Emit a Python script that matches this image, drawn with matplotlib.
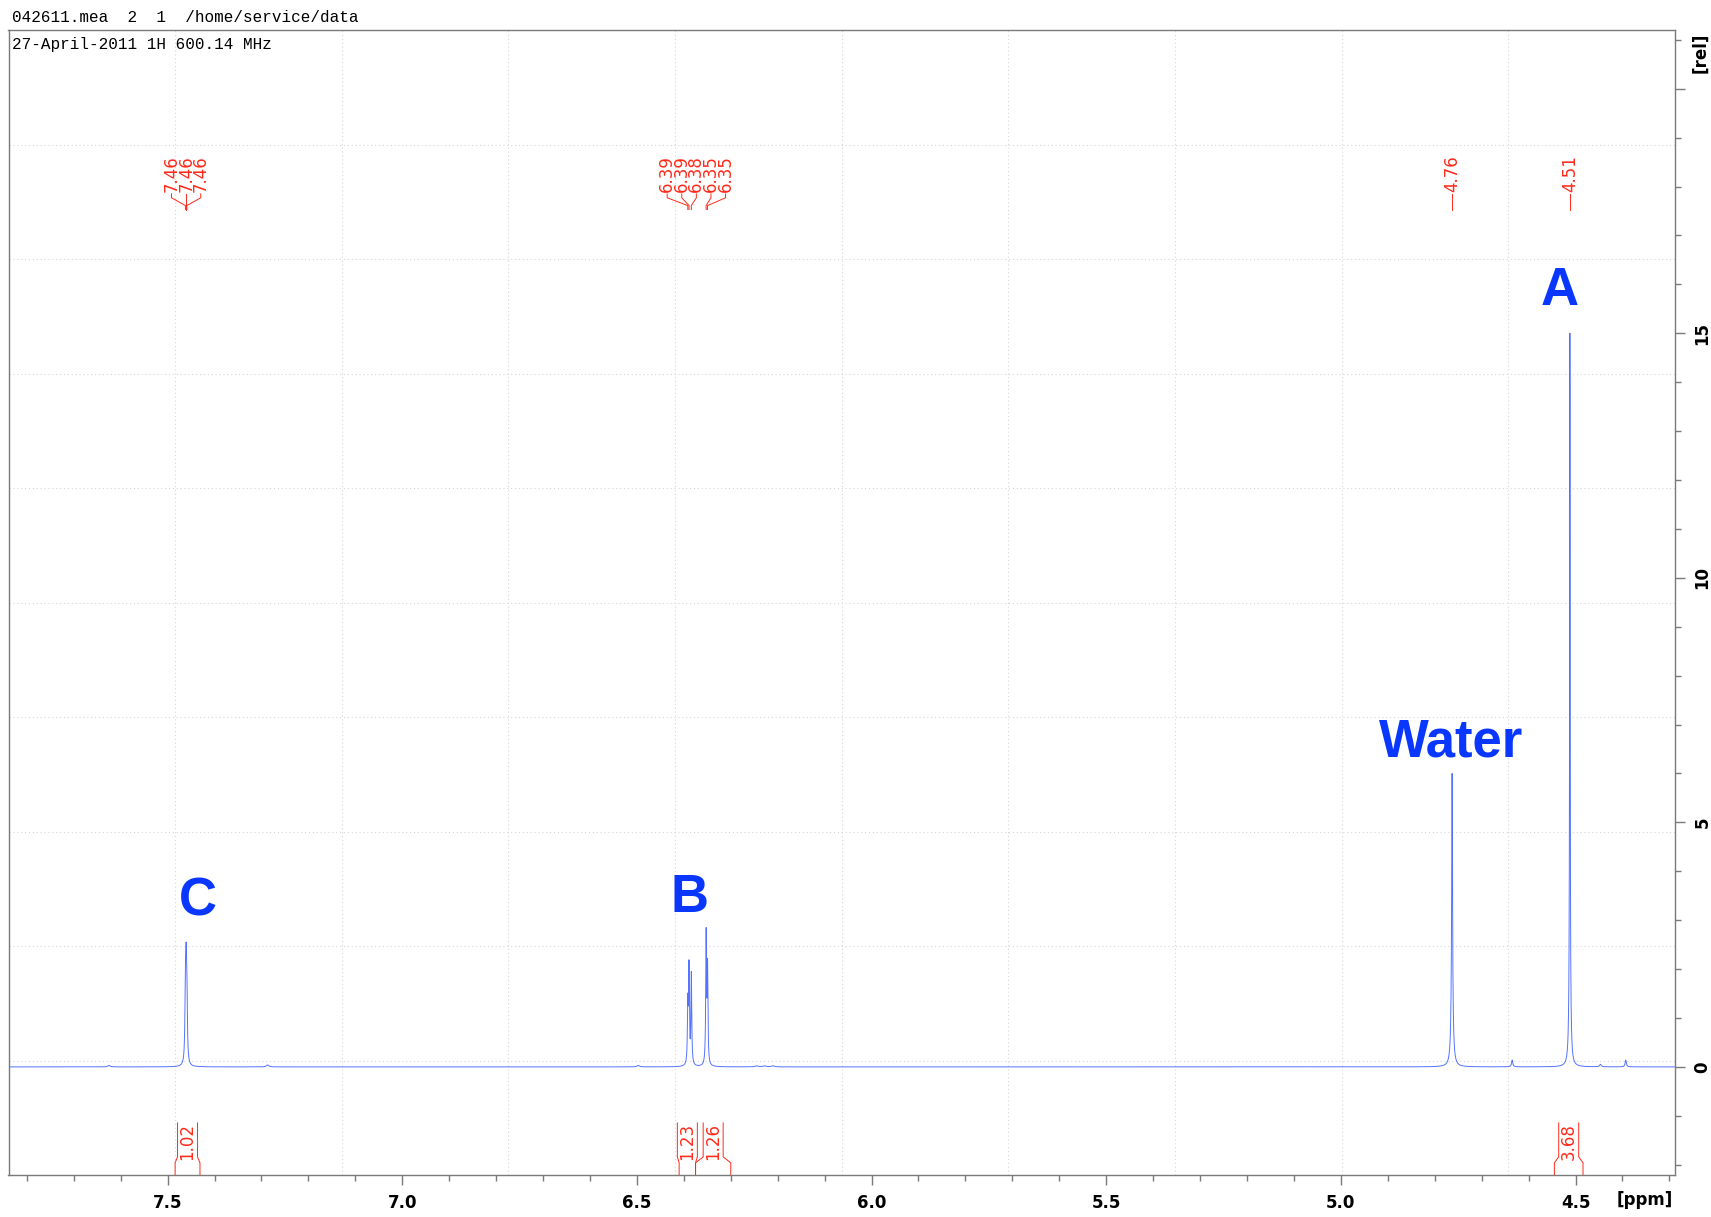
import numpy as np
import matplotlib
matplotlib.use("Agg")
import matplotlib.pyplot as plt
from matplotlib.ticker import MultipleLocator, FixedLocator, FixedFormatter

# ---------------------------------------------------------------------------
# Spectrum description
# ---------------------------------------------------------------------------
# picked peaks (labelled along the top): position [ppm], height [rel], half width [ppm]
peak_ppm = [7.4620, 7.4605, 7.4590, 6.3915, 6.3890, 6.3840, 6.3525, 6.3495, 4.7630, 4.5120]
peak_height = [1.40, 1.50, 1.30, 1.20, 1.95, 1.85, 2.65, 1.95, 4.60, 12.5]
peak_hwhm = [0.0012, 0.0012, 0.0012, 0.0010, 0.0010, 0.0010, 0.0010, 0.0010, 0.0010, 0.0006]

# unlabelled lines: broad feet of the strong signals and small impurities
extra_ppm = [7.625, 7.287, 6.497, 6.245, 6.228, 6.210, 4.763, 4.635, 4.512, 4.447, 4.393]
extra_height = [0.03, 0.04, 0.03, 0.02, 0.02, 0.02, 1.40, 0.14, 2.50, 0.05, 0.14]
extra_hwhm = [0.003, 0.003, 0.003, 0.004, 0.004, 0.004, 0.0022, 0.0015, 0.0016, 0.002, 0.0015]

# integration regions [ppm] and integral values
integral_from = [7.484, 6.410, 6.375, 4.545]
integral_to = [7.431, 6.375, 6.300, 4.484]
integral_value = [1.02, 1.23, 1.26, 3.68]

# signal assignments: text, ppm, baseline height
assign_text = ["A", "Water", "B", "C"]
assign_ppm = [4.533, 4.765, 6.387, 7.436]
assign_y = [15.57, 6.34, 3.17, 3.10]

x_ticks = [7.5, 7.0, 6.5, 6.0, 5.5, 5.0, 4.5]
y_ticks = [0, 5, 10, 15, 20]
y_tick_labels = ["0", "5", "10", "15", ""]

header_line1 = "042611.mea  2  1  /home/service/data"
header_line2 = "27-April-2011 1H 600.14 MHz"

# ---------------------------------------------------------------------------
W, H = 1711, 1217
XMIN, XMAX = 7.839, 4.288
YMIN, YMAX = -2.21, 21.2

SPEC_COLOR = "#5472ff"
RED = "#ff2a1a"
BLUE = "#0a37ff"
AXIS_GREY = "#7a7a7a"

fig = plt.figure(figsize=(W / 100, H / 100), dpi=100)
ax = fig.add_axes([8.5 / W, (H - 1175) / H, (1675 - 8.5) / W, (1175 - 30) / H])
ax.set_xlim(XMIN, XMAX)
ax.set_ylim(YMIN, YMAX)

# dotted grid dividing the frame into ten equal parts
for f in np.arange(1, 10) / 10:
    ax.plot([f, f], [0, 1], transform=ax.transAxes, color="#d6d6d6",
            lw=0.8, ls=(0, (1, 2.5)), zorder=0)
    ax.plot([0, 1], [f, f], transform=ax.transAxes, color="#d6d6d6",
            lw=0.8, ls=(0, (1, 2.5)), zorder=0)

# spectrum as a sum of Lorentzian lines
ppm = np.linspace(XMIN, XMAX, 240000)
spec = np.zeros_like(ppm)
for p, h, w in zip(peak_ppm + extra_ppm, peak_height + extra_height, peak_hwhm + extra_hwhm):
    spec += h / (1.0 + ((ppm - p) / w) ** 2)
ax.plot(ppm, spec, color=SPEC_COLOR, lw=0.7, zorder=3)

# ---------------------------------------------------------------------------
# peak labels with connectors, spread so that neighbours do not overlap
spacing = 14.6 * (XMIN - XMAX) / (1675 - 8.5)
order = sorted(range(len(peak_ppm)), key=lambda i: -peak_ppm[i])
groups = [[i] for i in order]


def group_positions(g):
    c = np.mean([peak_ppm[i] for i in g])
    n = len(g)
    return [c + spacing * ((n - 1) / 2 - k) for k in range(n)]


merged = True
while merged:
    merged = False
    for k in range(len(groups) - 1):
        a = group_positions(groups[k])
        b = group_positions(groups[k + 1])
        if a[-1] - b[0] < spacing:
            groups[k] = groups[k] + groups[k + 1]
            del groups[k + 1]
            merged = True
            break

for g in groups:
    for i, xl in zip(g, group_positions(g)):
        xp = peak_ppm[i]
        ax.plot([xl, xl, xp, xp], [17.85, 17.77, 17.61, 17.53],
                color=RED, lw=0.7, zorder=4)
        ax.text(xl, 17.89, f"{xp:.2f}", rotation=90, ha="center", va="bottom",
                color=RED, fontsize=12, family="DejaVu Sans")

# integral brackets
half_box = 10 * (XMIN - XMAX) / (1675 - 8.5)
for s, e, v in zip(integral_from, integral_to, integral_value):
    c = (s + e) / 2
    ax.plot([s, s, c + half_box, c + half_box], [YMIN, -1.96, -1.84, -1.145],
            color=RED, lw=0.7, zorder=4)
    ax.plot([e, e, c - half_box, c - half_box], [YMIN, -1.96, -1.84, -1.145],
            color=RED, lw=0.7, zorder=4)
    ax.text(c, -1.53, f"{v:.2f}", rotation=90, ha="center", va="center",
            color=RED, fontsize=12, family="DejaVu Sans")

# assignments
for t, xp, yp in zip(assign_text, assign_ppm, assign_y):
    ax.text(xp, yp, t, ha="center", va="baseline", color=BLUE, fontsize=38,
            fontweight="bold", family="Liberation Sans", zorder=5)

# ---------------------------------------------------------------------------
# axes styling
for side in ["left", "right", "top", "bottom"]:
    ax.spines[side].set_color(AXIS_GREY)
    ax.spines[side].set_linewidth(1.0)

ax.xaxis.set_major_locator(FixedLocator(x_ticks))
ax.xaxis.set_minor_locator(MultipleLocator(0.1))
ax.set_xticklabels([f"{t:.1f}" for t in x_ticks])
ax.tick_params(axis="x", which="major", direction="out", length=7.2, width=1.0,
               color=AXIS_GREY, pad=6.5, labelsize=12)
ax.tick_params(axis="x", which="minor", direction="out", length=4.3, width=1.0,
               color=AXIS_GREY)

ax.yaxis.tick_right()
ax.yaxis.set_major_locator(FixedLocator(y_ticks))
ax.yaxis.set_major_formatter(FixedFormatter(y_tick_labels))
ax.yaxis.set_minor_locator(MultipleLocator(1))
ax.tick_params(axis="y", which="major", direction="out", length=7.2, width=1.0,
               color=AXIS_GREY, pad=6.0, labelsize=12, labelrotation=90)
ax.tick_params(axis="y", which="minor", direction="out", length=4.3, width=1.0,
               color=AXIS_GREY)
ax.tick_params(which="both", left=False, top=False)

for lab in ax.get_xticklabels() + ax.get_yticklabels():
    lab.set_fontweight("bold")
    lab.set_family("DejaVu Sans")
for lab in ax.get_yticklabels():
    lab.set_va("center")

# units and header lines
fig.text(1645 / W, 1 - 1200 / H, "[ppm]", ha="center", va="center",
         fontsize=12, fontweight="bold", family="DejaVu Sans")
fig.text(1700 / W, 1 - 53 / H, "[rel]", ha="center", va="center", rotation=90,
         fontsize=12, fontweight="bold", family="DejaVu Sans")
fig.text(12 / W, 1 - 17.5 / H, header_line1, ha="left", va="center",
         fontsize=11.5, family="Liberation Mono")
fig.text(12 / W, 1 - 45 / H, header_line2, ha="left", va="center",
         fontsize=11.5, family="Liberation Mono")

fig.savefig("out.png", dpi=100, facecolor="white")
